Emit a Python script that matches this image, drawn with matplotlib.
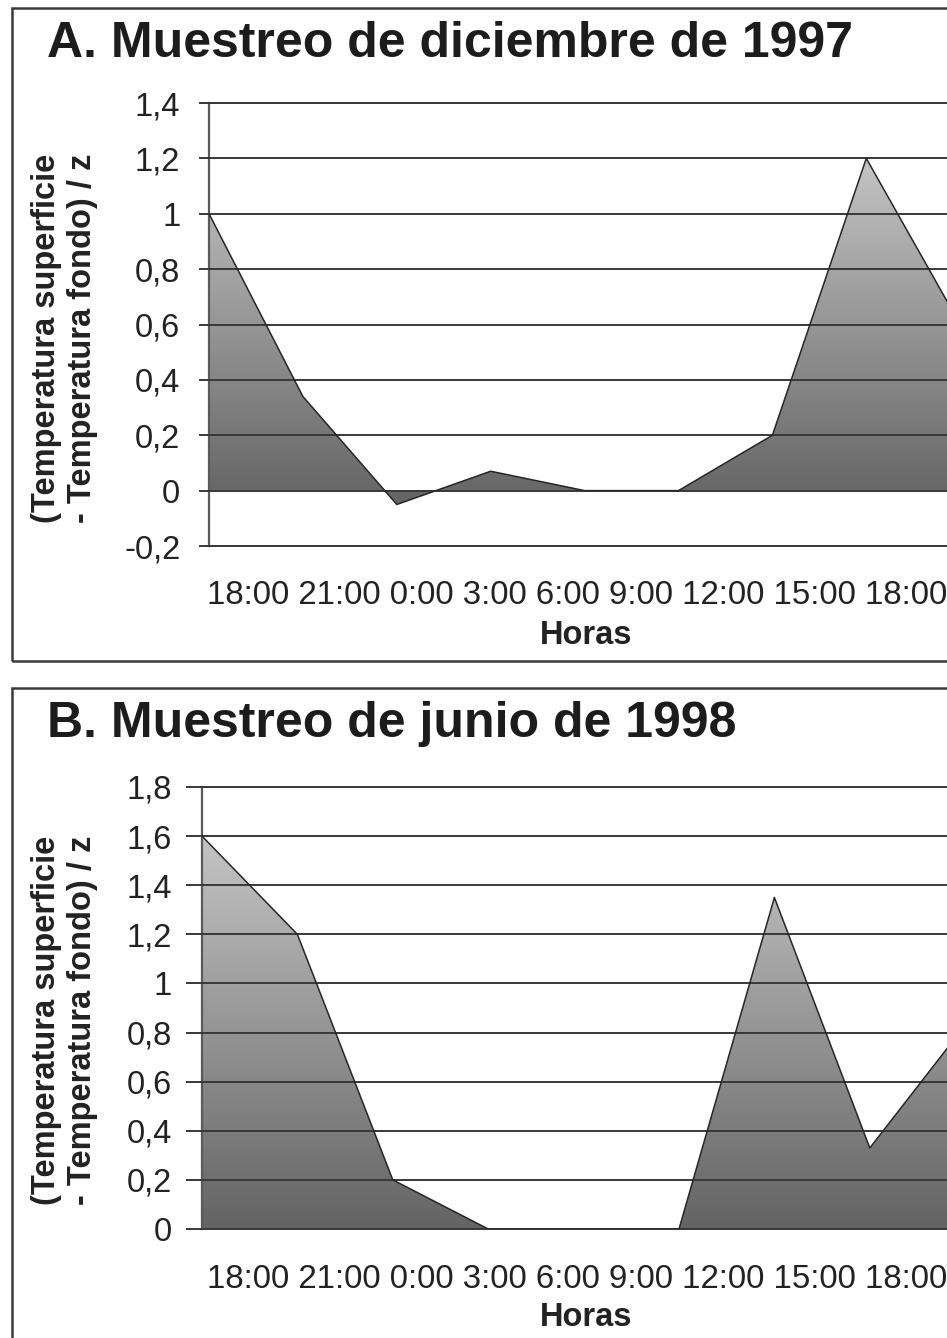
import numpy as np
import matplotlib
matplotlib.use("Agg")
import matplotlib.pyplot as plt
from matplotlib.colors import LinearSegmentedColormap
from matplotlib.patches import Rectangle

plt.rcParams["font.family"] = ["Liberation Sans", "DejaVu Sans"]

W, H = 947, 1338

# category labels written under each panel
horas = ["18:00", "21:00", "0:00", "3:00", "6:00", "9:00", "12:00", "15:00", "18:00"]

# A. diciembre 1997
dic_vals = [1.0, 0.34, -0.05, 0.07, 0.0, 0.0, 0.2, 1.2, 0.6]
dic_ticks = [-0.2, 0.0, 0.2, 0.4, 0.6, 0.8, 1.0, 1.2, 1.4]
dic_ticklabels = ["-0,2", "0", "0,2", "0,4", "0,6", "0,8", "1", "1,2", "1,4"]

# B. junio 1998
jun_vals = [1.6, 1.2, 0.2, 0.0, 0.0, 0.0, 1.35, 0.33, 0.83]
jun_ticks = [0.0, 0.2, 0.4, 0.6, 0.8, 1.0, 1.2, 1.4, 1.6, 1.8]
jun_ticklabels = ["0", "0,2", "0,4", "0,6", "0,8", "1", "1,2", "1,4", "1,6", "1,8"]

ylabel_1 = "(Temperatura superficie"
ylabel_2 = "- Temperatura fondo) / z"

GRID = "#383838"
TXT = "#222222"
gray_cmap = LinearSegmentedColormap.from_list("area", ["#c4c4c4", "#646464"])


def fx(x):
    return x / W


def fy(y):
    return 1 - y / H


def draw_panel(fig, vals, ticks, ticklabels, title, box, ax_px, step, ticklen, pad,
               ylab_y, xlab_y, horas_y):
    # panel frame
    bx0, by0, bx1, by1 = box
    fig.patches.append(Rectangle((fx(bx0), fy(by1)), fx(bx1 - bx0), (by1 - by0) / H,
                                 transform=fig.transFigure, fill=False,
                                 edgecolor="#3a3a3a", lw=1.8))
    fig.text(fx(47), fy(box[1] + 36), title, fontsize=36, fontweight="bold",
             color="#1c1c1c", ha="left", va="center")

    left, top, bottom = ax_px
    ax = fig.add_axes([fx(left), fy(bottom), 9 * step / W, (bottom - top) / H])
    x = np.arange(len(vals))
    y = np.array(vals)

    poly = ax.fill_between(x, y, 0, facecolor="none", edgecolor="none")
    grad = np.linspace(0, 1, 256).reshape(-1, 1)
    im = ax.imshow(grad, cmap=gray_cmap, aspect="auto", origin="upper",
                   extent=(x[0], x[-1], min(y.min(), 0), y.max()), zorder=1)
    im.set_clip_path(poly.get_paths()[0], transform=ax.transData)
    ax.plot(x, y, color="#262626", lw=1.1, zorder=3)

    ax.set_xlim(0, 9)
    ax.set_ylim(ticks[0], ticks[-1])
    ax.set_yticks(ticks)
    ax.set_yticklabels(ticklabels, fontsize=23.5, color=TXT)
    ax.set_xticks([])
    ax.tick_params(axis="y", direction="out", length=ticklen, width=1.4,
                   color=GRID, pad=pad)
    ax.set_axisbelow(False)
    ax.yaxis.grid(True, color=GRID, lw=1.4)
    for side in ["top", "bottom"]:
        ax.spines[side].set_color(GRID)
        ax.spines[side].set_linewidth(1.4)
    ax.spines["right"].set_visible(False)
    ax.spines["left"].set_color("#5a5a5a")
    ax.spines["left"].set_linewidth(1.6)
    ax.patch.set_alpha(0)

    fig.text(fx(46), fy(ylab_y), ylabel_1, rotation=90, fontsize=23.5,
             fontweight="bold", color=TXT, ha="center", va="center")
    fig.text(fx(83), fy(ylab_y), ylabel_2, rotation=90, fontsize=23.5,
             fontweight="bold", color=TXT, ha="center", va="center")
    fig.text(fx(207), fy(horas_y), " ".join(horas), fontsize=23.8, color=TXT,
             ha="left", va="center")
    fig.text(fx(586), fy(xlab_y), "Horas", fontsize=23.5, fontweight="bold",
             color=TXT, ha="center", va="center")
    return ax


fig = plt.figure(figsize=(W / 100, H / 100), dpi=100)

draw_panel(fig, dic_vals, dic_ticks, dic_ticklabels, "A. Muestreo de diciembre de 1997",
           (12, 8, 990, 661), (209, 103, 546), 93.9, 7.2, 13.5,
           338, 636, 596)
draw_panel(fig, jun_vals, jun_ticks, jun_ticklabels, "B. Muestreo de junio de 1998",
           (12, 688, 990, 1360), (202, 787, 1229), 95.4, 11.5, 10,
           1020, 1317, 1279)

fig.savefig("out.png", dpi=100)
